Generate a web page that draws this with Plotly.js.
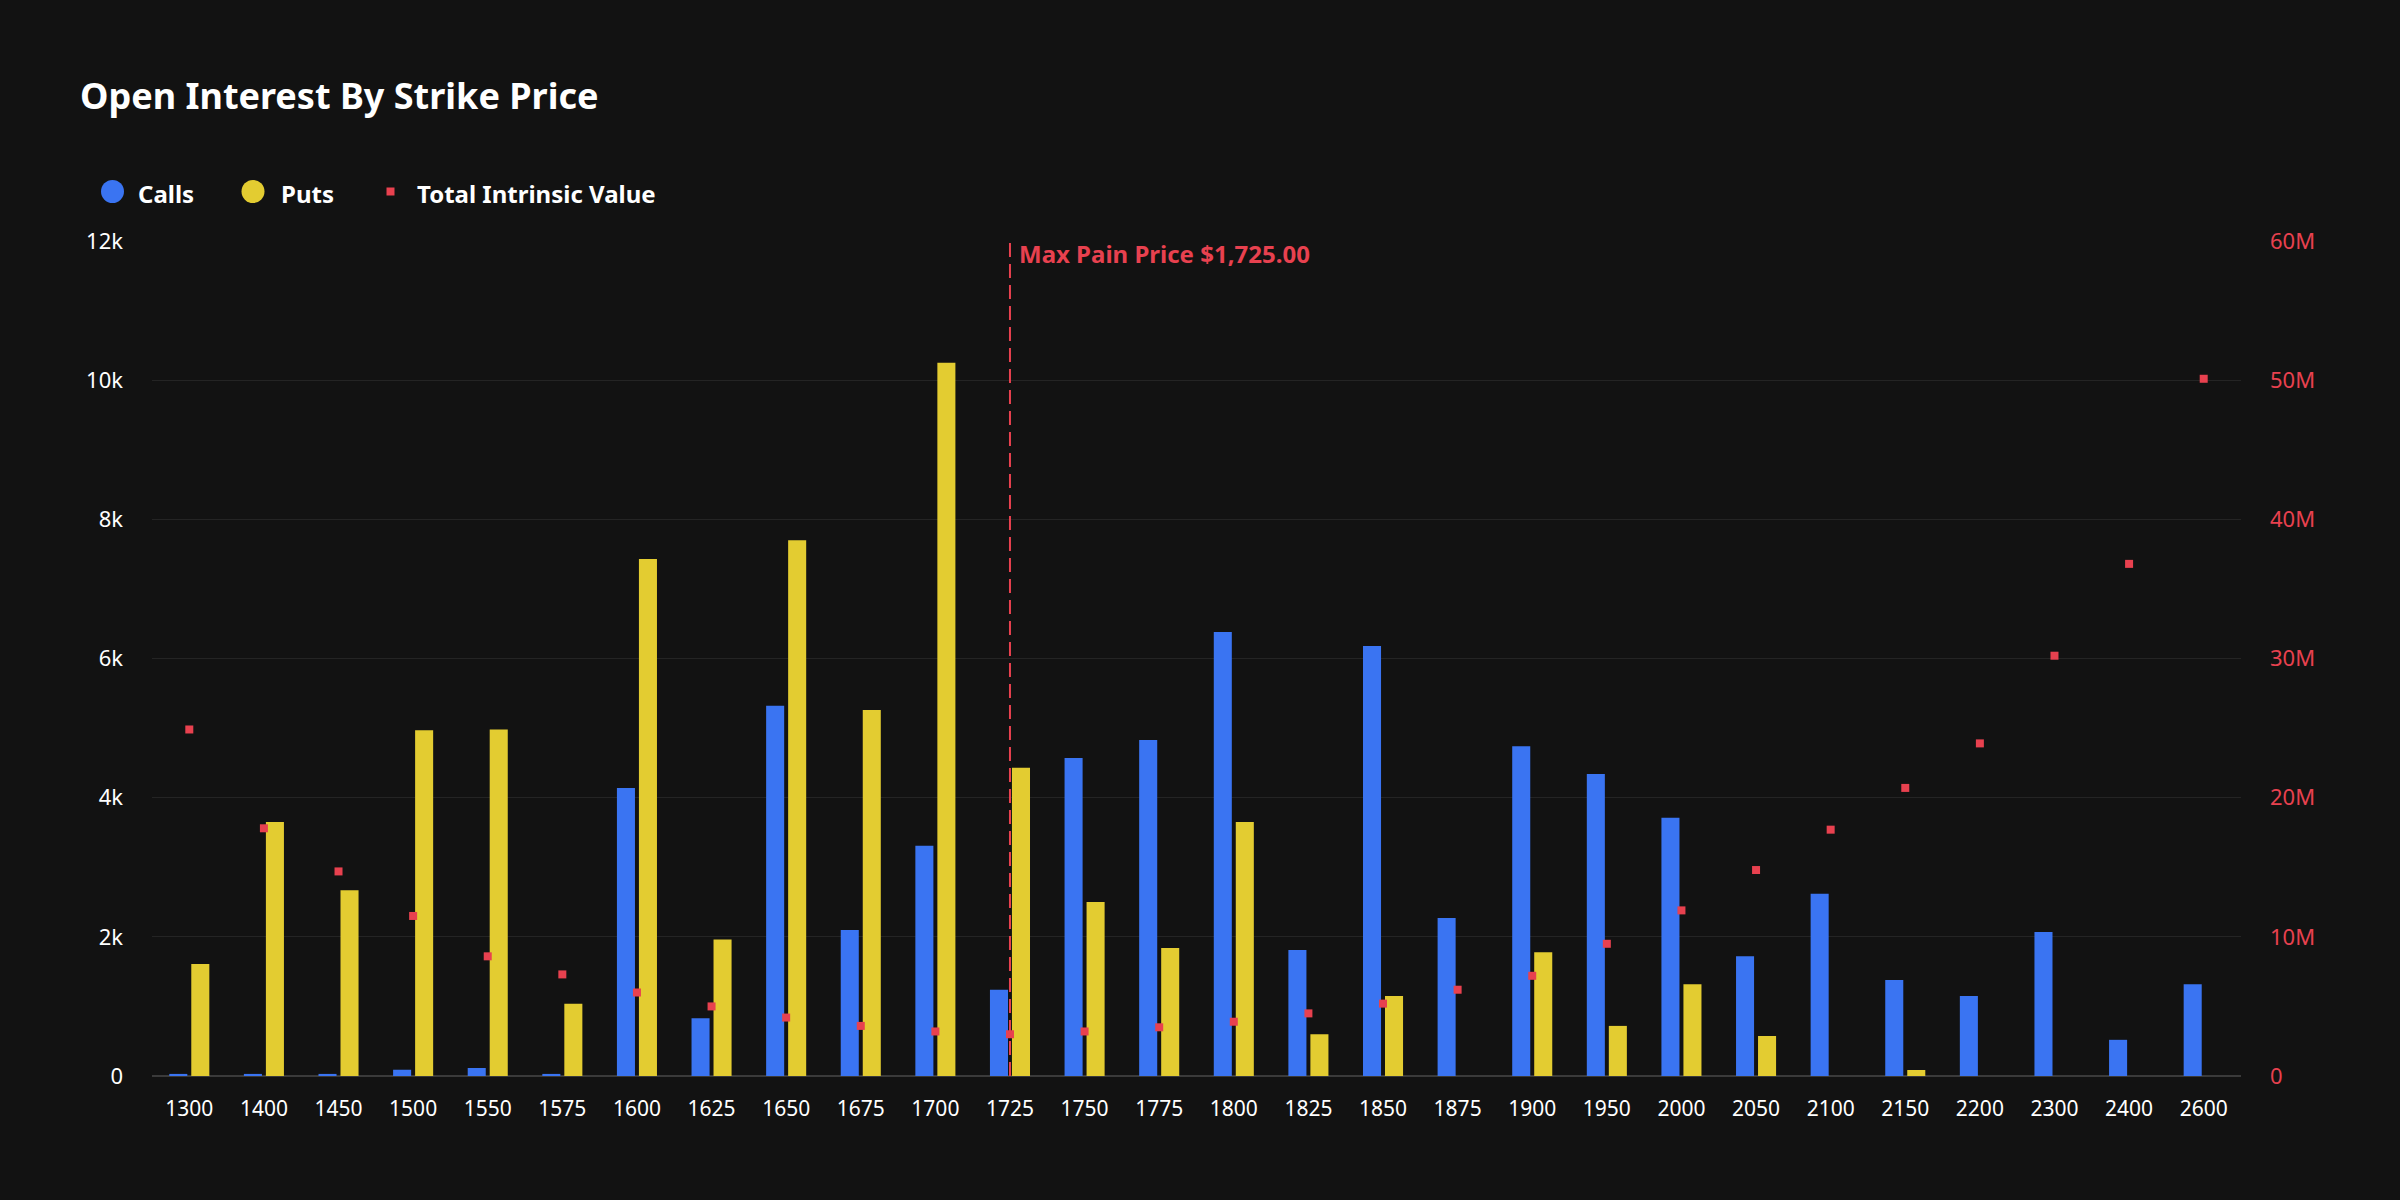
<!DOCTYPE html>
<html>
<head>
<meta charset="utf-8">
<script src="https://cdn.plot.ly/plotly-3.0.1.min.js"></script>
<style>
  html, body { margin: 0; padding: 0; background: #121212; }
  #chart { width: 2400px; height: 1200px; }
</style>
</head>
<body>
<div id="chart"></div>
<script>
// Strike prices (category axis)
const strikes = ['1300', '1400', '1450', '1500', '1550', '1575', '1600', '1625', '1650', '1675',
  '1700', '1725', '1750', '1775', '1800', '1825', '1850', '1875', '1900', '1950',
  '2000', '2050', '2100', '2150', '2200', '2300', '2400', '2600'];

// Open interest per strike
const callsOI = [30, 30, 30, 90, 115, 30, 4140, 830, 5320, 2100,
  3310, 1240, 4570, 4830, 6380, 1810, 6180, 2270, 4740, 4340,
  3710, 1720, 2620, 1380, 1150, 2070, 520, 1320];
const putsOI = [1610, 3650, 2670, 4970, 4980, 1040, 7430, 1960, 7700, 5260,
  10250, 4430, 2500, 1840, 3650, 600, 1150, 0, 1780, 720,
  1320, 575, 0, 86, 0, 0, 0, 0];

// Total intrinsic value at each strike, in millions of dollars
const intrinsicM = [24.9, 17.8, 14.7, 11.5, 8.6, 7.3, 6.0, 5.0, 4.2, 3.6,
  3.2, 3.0, 3.2, 3.5, 3.9, 4.5, 5.2, 6.2, 7.2, 9.5,
  11.9, 14.8, 17.7, 20.7, 23.9, 30.2, 36.8, 50.1];

const maxPainStrike = '1725';
const maxPainLabel = 'Max Pain Price $1,725.00';
const legendNames = ['Calls', 'Puts', 'Total Intrinsic Value'];

const COLORS = { calls: '#3a74f2', puts: '#e3cc31', tiv: '#e8414f', bg: '#121212' };
const FONT = 'Noto Sans, Open Sans, sans-serif';

// Page geometry
const W = 2400, H = 1200;
const M = { l: 152, r: 159, t: 241, b: 124 };
const PW = W - M.l - M.r, PH = H - M.t - M.b;
const px = x => (x - M.l) / PW;          // page pixel x -> paper x
const py = y => (H - M.b - y) / PH;      // page pixel y -> paper y

// Category index of the max pain strike (shapes/annotations use index on category axes)
const maxPainIdx = strikes.indexOf(maxPainStrike);

const traces = [
  {
    type: 'bar', name: legendNames[0], x: strikes, y: callsOI,
    marker: { color: COLORS.calls }, showlegend: false
  },
  {
    type: 'bar', name: legendNames[1], x: strikes, y: putsOI,
    marker: { color: COLORS.puts }, showlegend: false
  },
  {
    type: 'scatter', mode: 'markers', name: legendNames[2], x: strikes,
    y: intrinsicM.map(v => v * 1e6), yaxis: 'y2',
    marker: { symbol: 'square', size: 8, color: COLORS.tiv }, showlegend: false
  }
];

// Hand-built legend row above the plot
const legendY = py(191.5);
const shapes = [
  {
    type: 'circle', xref: 'paper', yref: 'paper', xsizemode: 'pixel', ysizemode: 'pixel',
    xanchor: px(112.5), yanchor: legendY, x0: -11.5, x1: 11.5, y0: -11.5, y1: 11.5,
    fillcolor: COLORS.calls, line: { width: 0 }
  },
  {
    type: 'circle', xref: 'paper', yref: 'paper', xsizemode: 'pixel', ysizemode: 'pixel',
    xanchor: px(253), yanchor: legendY, x0: -11.5, x1: 11.5, y0: -11.5, y1: 11.5,
    fillcolor: COLORS.puts, line: { width: 0 }
  },
  {
    type: 'rect', xref: 'paper', yref: 'paper', xsizemode: 'pixel', ysizemode: 'pixel',
    xanchor: px(390.5), yanchor: legendY, x0: -4, x1: 4, y0: -4, y1: 4,
    fillcolor: COLORS.tiv, line: { width: 0 }
  },
  // Max pain marker line
  {
    type: 'line', xref: 'x', yref: 'paper', x0: maxPainIdx, x1: maxPainIdx, y0: 0, y1: 1,
    line: { color: COLORS.tiv, width: 2, dash: '14px,7px' }, layer: 'above'
  }
];

const legendFont = { family: FONT, size: 24, color: '#ffffff', weight: 700 };
const annotations = [
  { text: legendNames[0], x: px(136), xanchor: 'left' },
  { text: legendNames[1], x: px(279), xanchor: 'left' },
  { text: legendNames[2], x: px(415), xanchor: 'left' }
].map(a => Object.assign({
  xref: 'paper', yref: 'paper', y: py(193), yanchor: 'middle', showarrow: false, font: legendFont
}, a));

annotations.push({
  xref: 'x', yref: 'paper', x: maxPainIdx, y: py(253.5), xanchor: 'left', yanchor: 'middle',
  xshift: 7, showarrow: false, text: maxPainLabel,
  font: { family: FONT, size: 24, color: COLORS.tiv, weight: 700 }
});

const layout = {
  width: W, height: H,
  paper_bgcolor: COLORS.bg, plot_bgcolor: COLORS.bg,
  margin: M,
  font: { family: FONT, color: '#ffffff' },
  title: {
    text: 'Open Interest By Strike Price',
    xref: 'container', yref: 'container', x: 80 / W, xanchor: 'left',
    y: 1 - 96 / H, yanchor: 'middle',
    font: { family: FONT, size: 36, color: '#ffffff', weight: 700 }
  },
  barmode: 'group', bargap: 0.41, bargroupgap: 0.18,
  showlegend: false,
  xaxis: {
    type: 'category', categoryorder: 'array', categoryarray: strikes,
    range: [-0.5, strikes.length - 0.5], autorange: false,
    showgrid: false, zeroline: false, showline: false,
    ticks: '', ticklabelstandoff: 18, tickangle: 0,
    tickfont: { family: FONT, size: 21, color: '#ffffff' }
  },
  yaxis: {
    range: [0, 12000], dtick: 2000, tickformat: '~s',
    showgrid: true, gridcolor: '#242424', gridwidth: 1,
    zeroline: true, zerolinecolor: '#3a3a3a', zerolinewidth: 2,
    showline: false, ticks: '', ticklabelstandoff: 28,
    tickfont: { family: FONT, size: 22, color: '#ffffff' }
  },
  yaxis2: {
    overlaying: 'y', side: 'right',
    range: [0, 60e6], dtick: 10e6, tickformat: '~s',
    showgrid: false, zeroline: false, showline: false, ticks: '', ticklabelstandoff: 28,
    tickfont: { family: FONT, size: 22, color: COLORS.tiv }
  },
  shapes: shapes,
  annotations: annotations
};

Plotly.newPlot('chart', traces, layout, { staticPlot: true, displayModeBar: false });
</script>
</body>
</html>
